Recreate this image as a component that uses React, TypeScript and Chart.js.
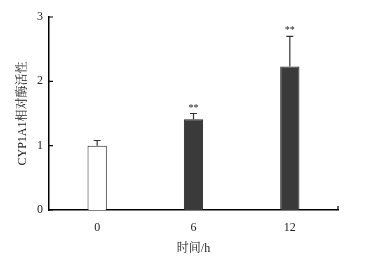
import React, { useEffect, useRef } from "react";
import { Chart, registerables } from "chart.js";
Chart.register(...registerables);

const categories = ["0", "6", "12"];
const means = [1.0, 1.41, 2.23];
const errors = [0.08, 0.09, 0.47];
const significance = ["", "**", "**"];
const fills = ["#ffffff", "#3a3a3a", "#3a3a3a"];
const yTitle = "CYP1A1相对酶活性";
const xTitle = "时间/h";

const FONT = "'Liberation Serif', 'Noto Serif CJK SC', 'Noto Sans CJK SC', serif";

const extras = {
  id: "extras",
  afterDatasetsDraw(chart: any) {
    const ctx = chart.ctx;
    const meta = chart.getDatasetMeta(0);
    const y = chart.scales.y;
    ctx.save();
    meta.data.forEach((bar: any, i: number) => {
      const x = bar.x;
      const top = y.getPixelForValue(means[i]);
      const errTop = y.getPixelForValue(means[i] + errors[i]);
      ctx.strokeStyle = "#333";
      ctx.lineWidth = 1.2;
      ctx.beginPath();
      ctx.moveTo(x, top);
      ctx.lineTo(x, errTop);
      ctx.moveTo(x - 3.5, errTop);
      ctx.lineTo(x + 3.5, errTop);
      ctx.stroke();
      if (significance[i]) {
        ctx.fillStyle = "#222";
        ctx.font = `10px ${FONT}`;
        ctx.textAlign = "center";
        ctx.textBaseline = "middle";
        ctx.fillText(significance[i], x, errTop - 5.5);
      }
    });
    ctx.restore();
  },
  afterDraw(chart: any) {
    const ctx = chart.ctx;
    const y = chart.scales.y;
    const x = chart.scales.x;
    const area = chart.chartArea;
    ctx.save();
    ctx.strokeStyle = "#000";
    ctx.lineWidth = 1.2;
    ctx.beginPath();
    y.ticks.forEach((t: any) => {
      const py = y.getPixelForValue(t.value);
      ctx.moveTo(area.left, py);
      ctx.lineTo(area.left + 4, py);
    });
    ctx.moveTo(x.right, area.bottom);
    ctx.lineTo(x.right, area.bottom - 4);
    ctx.stroke();
    ctx.restore();
  },
};

export default function App() {
  const ref = useRef<HTMLCanvasElement>(null);
  useEffect(() => {
    if (!ref.current) return;
    const chart = new Chart(ref.current, {
      type: "bar",
      data: {
        labels: categories,
        datasets: [
          {
            data: means,
            backgroundColor: fills,
            borderColor: "#222",
            borderWidth: 1,
            barPercentage: 0.2,
            categoryPercentage: 1,
          },
        ],
      },
      options: {
        animation: false,
        responsive: true,
        maintainAspectRatio: false,
        layout: { padding: { left: 0, top: 17, right: 28, bottom: 0 } },
        plugins: { legend: { display: false }, tooltip: { enabled: false } },
        scales: {
          x: {
            grid: { display: false, drawTicks: false },
            border: { display: true, color: "#000", width: 1.5 },
            ticks: { color: "#222", font: { family: FONT, size: 12 }, padding: 11 },
            title: {
              display: true,
              text: xTitle,
              color: "#222",
              font: { family: FONT, size: 12 },
              padding: { top: 4, bottom: 6 },
            },
            afterFit(scale: any) {
              scale.height = 52;
            },
          },
          y: {
            min: 0,
            max: 3,
            grid: { display: false, drawTicks: false },
            border: { display: true, color: "#000", width: 1.5 },
            ticks: { stepSize: 1, color: "#222", font: { family: FONT, size: 12 }, padding: 6 },
            title: {
              display: true,
              text: yTitle,
              color: "#222",
              font: { family: FONT, size: 12 },
              padding: { top: 16, bottom: 8 },
            },
            afterFit(scale: any) {
              scale.width = 49;
            },
          },
        },
      },
      plugins: [extras],
    });
    return () => chart.destroy();
  }, []);
  return (
    <div style={{ position: "absolute", left: 0, top: 0, width: 366, height: 262, background: "#fff" }}>
      <canvas ref={ref} />
    </div>
  );
}
